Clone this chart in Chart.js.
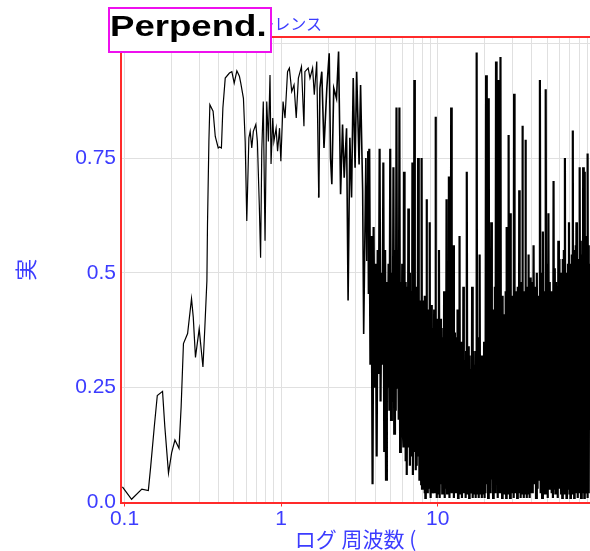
<!DOCTYPE html>
<html lang="ja">
<head>
<meta charset="utf-8">
<title>コヒーレンス</title>
<script src="https://cdn.jsdelivr.net/npm/chart.js@4.4.1/dist/chart.umd.min.js"></script>
<style>
    body { margin: 0; background: #fff; }
    #wrap { position: relative; width: 590px; height: 551px; overflow: hidden; }
    #topTitle {
        position: absolute; right: 268px; top: 14px;
        font: 16px "Noto Sans CJK JP"; line-height: 18px;
        color: #3c3cff; white-space: nowrap;
    }
    #tag {
        position: absolute; left: 108px; top: 7px; width: 164px; height: 46px;
        box-sizing: border-box; border: 2px solid #ee10ee; background: #fff;
    }
    #tag span {
        position: absolute; left: 0; top: 1.5px;
        font: bold 30px "Liberation Sans"; line-height: 30px; color: #000;
        transform: scaleX(1.22); transform-origin: left top; white-space: nowrap;
    }
</style>
</head>
<body>
<div id="wrap">
    <canvas id="chart" width="590" height="551"></canvas>
    <span id="topTitle">コヒーレンス</span>
    <div id="tag"><span>Perpend.</span></div>
</div>
<script>
// 低周波側 (0.1 - 3.6 Hz)
const freqLow = [
    0.097, 0.111, 0.129, 0.142, 0.147, 0.155, 0.162, 0.175, 0.181, 0.191,
    0.200, 0.210, 0.223, 0.230, 0.238, 0.253, 0.268, 0.275, 0.284, 0.300,
    0.317, 0.326, 0.336, 0.339, 0.346, 0.351, 0.368, 0.380, 0.397, 0.405,
    0.416, 0.425, 0.440, 0.468, 0.485, 0.502, 0.522, 0.542, 0.553, 0.575,
    0.590, 0.604, 0.623, 0.635, 0.650, 0.665, 0.690, 0.706, 0.726, 0.740,
    0.753, 0.770, 0.790, 0.810, 0.830, 0.850, 0.863, 0.885, 0.900, 0.930,
    0.950, 0.978, 0.997, 1.03, 1.06, 1.10, 1.13, 1.17, 1.21, 1.25,
    1.29, 1.35, 1.40, 1.42, 1.49, 1.53, 1.59, 1.63, 1.69, 1.74,
    1.77, 1.82, 1.88, 1.96, 2.03, 2.07, 2.11, 2.17, 2.26, 2.33,
    2.40, 2.47, 2.53, 2.62, 2.68, 2.75, 2.82, 2.89, 2.97, 3.04,
    3.15, 3.22, 3.32, 3.37, 3.48, 3.53, 3.60, 3.63
];
const cohLow = [
    0.034, 0.007, 0.029, 0.026, 0.078, 0.165, 0.233, 0.242, 0.165, 0.064,
    0.108, 0.136, 0.118, 0.208, 0.346, 0.368, 0.444, 0.403, 0.316, 0.378,
    0.295, 0.381, 0.483, 0.607, 0.786, 0.866, 0.852, 0.797, 0.772, 0.774,
    0.772, 0.859, 0.924, 0.935, 0.938, 0.913, 0.940, 0.928, 0.913, 0.880,
    0.786, 0.613, 0.794, 0.808, 0.772, 0.808, 0.823, 0.786, 0.649, 0.533,
    0.765, 0.873, 0.570, 0.873, 0.786, 0.931, 0.737, 0.837, 0.786, 0.815,
    0.765, 0.815, 0.743, 0.873, 0.837, 0.938, 0.946, 0.895, 0.909, 0.837,
    0.924, 0.949, 0.819, 0.938, 0.946, 0.924, 0.946, 0.888, 0.960, 0.664,
    0.902, 0.938, 0.772, 0.902, 0.978, 0.750, 0.693, 0.902, 0.880, 0.982,
    0.671, 0.823, 0.707, 0.815, 0.440, 0.794, 0.664, 0.924, 0.729, 0.938,
    0.736, 0.909, 0.678, 0.367, 0.750, 0.526, 0.765, 0.454
];

// 中間 (3.6 - 20 Hz)
const freqMid = [
    3.66, 3.72, 3.78, 3.84, 3.90, 3.96, 4.02, 4.08, 4.14, 4.20,
    4.26, 4.32, 4.38, 4.44, 4.50, 4.56, 4.62, 4.68, 4.74, 4.80,
    4.86, 4.92, 4.98, 5.04, 5.10, 5.16, 5.22, 5.28, 5.34, 5.40,
    5.46, 5.52, 5.58, 5.64, 5.70, 5.76, 5.82, 5.88, 5.94, 6.00,
    6.05, 6.1, 6.15, 6.2, 6.25, 6.3, 6.35, 6.4, 6.45, 6.5,
    6.55, 6.6, 6.65, 6.7, 6.75, 6.8, 6.85, 6.9, 6.95, 7.0,
    7.05, 7.1, 7.15, 7.2, 7.25, 7.3, 7.35, 7.4, 7.45, 7.5,
    7.55, 7.6, 7.65, 7.7, 7.75, 7.8, 7.85, 7.9, 7.95, 8.0,
    8.05, 8.1, 8.15, 8.2, 8.25, 8.3, 8.35, 8.4, 8.45, 8.5,
    8.55, 8.6, 8.65, 8.7, 8.75, 8.8, 8.85, 8.9, 8.95, 9.0,
    9.05, 9.1, 9.15, 9.2, 9.25, 9.3, 9.35, 9.4, 9.45, 9.5,
    9.55, 9.6, 9.65, 9.7, 9.75, 9.8, 9.85, 9.9, 9.95, 10.0,
    10.1, 10.2, 10.3, 10.4, 10.5, 10.6, 10.7, 10.8, 10.9, 11.0,
    11.1, 11.2, 11.3, 11.4, 11.5, 11.6, 11.7, 11.8, 11.9, 12.0,
    12.1, 12.2, 12.3, 12.4, 12.5, 12.6, 12.7, 12.8, 12.9, 13.0,
    13.1, 13.2, 13.3, 13.4, 13.5, 13.6, 13.7, 13.8, 13.9, 14.0,
    14.1, 14.2, 14.3, 14.4, 14.5, 14.6, 14.7, 14.8, 14.9, 15.0,
    15.1, 15.2, 15.3, 15.4, 15.5, 15.6, 15.7, 15.8, 15.9, 16.0,
    16.1, 16.2, 16.3, 16.4, 16.5, 16.6, 16.7, 16.8, 16.9, 17.0,
    17.1, 17.2, 17.3, 17.4, 17.5, 17.6, 17.7, 17.8, 17.9, 18.0,
    18.1, 18.2, 18.3, 18.4, 18.5, 18.6, 18.7, 18.8, 18.9, 19.0,
    19.1, 19.2, 19.3, 19.4, 19.5, 19.6, 19.7, 19.8, 19.9, 20.0
];
const cohMid = [
    0.77, 0.30, 0.58, 0.04, 0.60, 0.25, 0.52, 0.10, 0.55, 0.28,
    0.77, 0.22, 0.50, 0.30, 0.74, 0.11, 0.55, 0.05, 0.48, 0.25,
    0.52, 0.20, 0.77, 0.18, 0.50, 0.22, 0.73, 0.15, 0.55, 0.20,
    0.86, 0.25, 0.50, 0.18, 0.86, 0.11, 0.48, 0.20, 0.52, 0.15,
    0.12, 0.72, 0.15, 0.48, 0.09, 0.47, 0.06, 0.44, 0.14, 0.64,
    0.12, 0.50, 0.08, 0.45, 0.18, 0.46, 0.10, 0.74, 0.06, 0.43,
    0.11, 0.92, 0.12, 0.47, 0.07, 0.46, 0.08, 0.42, 0.13, 0.75,
    0.10, 0.45, 0.05, 0.44, 0.07, 0.41, 0.04, 0.75, 0.03, 0.44,
    0.06, 0.42, 0.05, 0.40, 0.02, 0.45, 0.01, 0.43, 0.04, 0.66,
    0.04, 0.39, 0.02, 0.40, 0.03, 0.42, 0.05, 0.61, 0.05, 0.38,
    0.01, 0.43, 0.02, 0.41, 0.04, 0.38, 0.04, 0.37, 0.02, 0.42,
    0.02, 0.40, 0.03, 0.84, 0.03, 0.36, 0.01, 0.40, 0.02, 0.39,
    0.03, 0.55, 0.01, 0.40, 0.04, 0.38, 0.02, 0.36, 0.05, 0.46,
    0.01, 0.42, 0.03, 0.66, 0.02, 0.34, 0.04, 0.71, 0.01, 0.38,
    0.03, 0.86, 0.02, 0.33, 0.05, 0.56, 0.01, 0.37, 0.03, 0.36,
    0.02, 0.31, 0.04, 0.42, 0.01, 0.35, 0.03, 0.58, 0.02, 0.30,
    0.05, 0.35, 0.01, 0.34, 0.03, 0.47, 0.02, 0.29, 0.04, 0.31,
    0.01, 0.33, 0.03, 0.72, 0.02, 0.30, 0.05, 0.34, 0.01, 0.32,
    0.03, 0.29, 0.02, 0.28, 0.04, 0.47, 0.01, 0.31, 0.03, 0.33,
    0.02, 0.29, 0.05, 0.30, 0.01, 0.33, 0.03, 0.98, 0.02, 0.30,
    0.04, 0.36, 0.01, 0.32, 0.03, 0.54, 0.02, 0.28, 0.05, 0.32,
    0.01, 0.31, 0.03, 0.28, 0.02, 0.30, 0.04, 0.35, 0.01, 0.33
];

// 高周波側 (20 - 93 Hz)
const freqHigh = [
    20.2, 20.4, 20.6, 20.8, 21.0, 21.2, 21.4, 21.6, 21.8, 22.0,
    22.2, 22.4, 22.6, 22.8, 23.0, 23.2, 23.4, 23.6, 23.8, 24.0,
    24.2, 24.4, 24.6, 24.8, 25.0, 25.2, 25.4, 25.6, 25.8, 26.0,
    26.2, 26.4, 26.6, 26.8, 27.0, 27.2, 27.4, 27.6, 27.8, 28.0,
    28.2, 28.4, 28.6, 28.8, 29.0, 29.2, 29.4, 29.6, 29.8, 30.0,
    30.2, 30.4, 30.6, 30.8, 31.0, 31.2, 31.4, 31.6, 31.8, 32.0,
    32.2, 32.4, 32.6, 32.8, 33.0, 33.2, 33.4, 33.6, 33.8, 34.0,
    34.2, 34.4, 34.6, 34.8, 35.0, 35.2, 35.4, 35.6, 35.8, 36.0,
    36.2, 36.4, 36.6, 36.8, 37.0, 37.2, 37.4, 37.6, 37.8, 38.0,
    38.2, 38.4, 38.6, 38.8, 39.0, 39.2, 39.4, 39.6, 39.8, 40.0,
    40.5, 41, 41.5, 42, 42.5, 43, 43.5, 44, 44.5, 45,
    45.5, 46, 46.5, 47, 47.5, 48, 48.5, 49, 49.5, 50,
    50.5, 51, 51.5, 52, 52.5, 53, 53.5, 54, 54.5, 55,
    55.5, 56, 56.5, 57, 57.5, 58, 58.5, 59, 59.5, 60,
    60.5, 61, 61.5, 62, 62.5, 63, 63.5, 64, 64.5, 65,
    65.5, 66, 66.5, 67, 67.5, 68, 68.5, 69, 69.5, 70,
    70.5, 71, 71.5, 72, 72.5, 73, 73.5, 74, 74.5, 75,
    75.5, 76, 76.5, 77, 77.5, 78, 78.5, 79, 79.5, 80,
    80.5, 81, 81.5, 82, 82.5, 83, 83.5, 84, 84.5, 85,
    85.5, 86, 86.5, 87, 87.5, 88, 88.5, 89, 89.5, 90,
    90.5, 91, 91.5, 92, 92.5, 93
];
const cohHigh = [
    0.02, 0.93, 0.04, 0.38, 0.01, 0.88, 0.03, 0.42, 0.02, 0.61,
    0.05, 0.36, 0.01, 0.42, 0.03, 0.47, 0.02, 0.96, 0.04, 0.40,
    0.01, 0.92, 0.03, 0.44, 0.02, 0.97, 0.05, 0.39, 0.01, 0.45,
    0.03, 0.41, 0.02, 0.38, 0.04, 0.46, 0.01, 0.60, 0.03, 0.43,
    0.02, 0.80, 0.05, 0.40, 0.01, 0.63, 0.03, 0.45, 0.02, 0.44,
    0.04, 0.42, 0.01, 0.89, 0.03, 0.46, 0.02, 0.40, 0.05, 0.44,
    0.01, 0.47, 0.03, 0.42, 0.02, 0.68, 0.04, 0.45, 0.01, 0.43,
    0.03, 0.48, 0.02, 0.82, 0.05, 0.44, 0.01, 0.46, 0.03, 0.42,
    0.02, 0.79, 0.04, 0.47, 0.01, 0.41, 0.03, 0.45, 0.02, 0.54,
    0.05, 0.43, 0.01, 0.44, 0.03, 0.49, 0.02, 0.48, 0.04, 0.46,
    0.02, 0.56, 0.04, 0.47, 0.01, 0.50, 0.03, 0.45, 0.05, 0.92,
    0.02, 0.50, 0.01, 0.59, 0.03, 0.46, 0.02, 0.90, 0.04, 0.52,
    0.01, 0.63, 0.03, 0.48, 0.05, 0.46, 0.02, 0.44, 0.01, 0.70,
    0.03, 0.51, 0.02, 0.48, 0.04, 0.47, 0.01, 0.57, 0.03, 0.53,
    0.05, 0.50, 0.02, 0.49, 0.01, 0.53, 0.03, 0.55, 0.02, 0.75,
    0.04, 0.50, 0.01, 0.49, 0.03, 0.52, 0.05, 0.61, 0.02, 0.48,
    0.01, 0.52, 0.03, 0.54, 0.02, 0.81, 0.04, 0.51, 0.01, 0.55,
    0.03, 0.56, 0.05, 0.61, 0.02, 0.50, 0.01, 0.50, 0.03, 0.53,
    0.02, 0.73, 0.04, 0.57, 0.01, 0.54, 0.03, 0.52, 0.05, 0.73,
    0.02, 0.55, 0.01, 0.72, 0.03, 0.58, 0.02, 0.55, 0.04, 0.53,
    0.01, 0.76, 0.03, 0.56, 0.02, 0.52
];

// 目盛り
const xGridValues = [
    0.1, 0.2, 0.3, 0.4, 0.5, 0.6, 0.7, 0.8, 0.9,
    1, 2, 3, 4, 5, 6, 7, 8, 9,
    10, 20, 30, 40, 50, 60, 70, 80, 90
];
const xLabelValues = [0.1, 1, 10];
const xLabelTexts = ["0.1", "1", "10"];
const yTickValues = [0, 0.25, 0.5, 0.75, 1.0];
const yTickTexts = ["0.0", "0.25", "0.5", "0.75", ""];

const blue = "#3c3cff";
const axisRed = "#ff2a2a";
const gridGrey = "#e0e0e0";

document.addEventListener("DOMContentLoaded", () => {
    const freqs = freqLow.concat(freqMid, freqHigh);
    const cohs = cohLow.concat(cohMid, cohHigh);
    const points = freqs.map((f, i) => ({ x: f, y: cohs[i] }));

    // 上側の赤い枠線
    const topBorder = {
        id: "topBorder",
        afterDraw(chart) {
            const { ctx, chartArea } = chart;
            ctx.save();
            ctx.strokeStyle = axisRed;
            ctx.lineWidth = 2;
            ctx.beginPath();
            ctx.moveTo(chartArea.left, chartArea.top);
            ctx.lineTo(chartArea.right, chartArea.top);
            ctx.stroke();
            ctx.restore();
        },
    };

    // 周波数が高いほど点が詰まるので線を太くする
    const segWidth = (c) => {
        const f = c.p0.parsed.x;
        if (f >= 3.6) return 2.2;
        if (f >= 1.7) return 1.6;
        return 1.2;
    };

    const ctx = document.getElementById("chart").getContext("2d");
    new Chart(ctx, {
        type: "line",
        data: {
            datasets: [
                {
                    data: points,
                    borderColor: "#000",
                    borderWidth: 1.2,
                    pointRadius: 0,
                    tension: 0,
                    segment: { borderWidth: segWidth },
                },
            ],
        },
        options: {
            responsive: false,
            animation: false,
            layout: { padding: { top: 37, left: 0, right: 0, bottom: 0 } },
            plugins: {
                legend: { display: false },
                tooltip: { enabled: false },
            },
            scales: {
                x: {
                    type: "logarithmic",
                    min: 0.095,
                    max: 94,
                    afterBuildTicks: (scale) => {
                        scale.ticks = xGridValues.map((v) => ({ value: v }));
                    },
                    afterFit: (scale) => {
                        scale.height = 48.5;
                    },
                    grid: {
                        color: gridGrey,
                        drawTicks: true,
                        tickLength: 4,
                        tickColor: (c) =>
                            c.tick && xLabelValues.includes(c.tick.value) ? axisRed : "rgba(0,0,0,0)",
                    },
                    border: { color: axisRed, width: 2 },
                    ticks: {
                        autoSkip: false,
                        maxRotation: 0,
                        padding: 0,
                        color: blue,
                        font: { family: "Liberation Sans", size: 21 },
                        callback: (value) => {
                            const i = xLabelValues.indexOf(value);
                            return i >= 0 ? xLabelTexts[i] : "";
                        },
                    },
                    title: {
                        display: true,
                        text: "ログ 周波数 (",
                        color: blue,
                        font: { family: "Noto Sans CJK JP", size: 21, lineHeight: 1.0 },
                        padding: { top: 0, bottom: 1 },
                    },
                },
                y: {
                    min: 0,
                    max: 1.0135,
                    afterBuildTicks: (scale) => {
                        scale.ticks = yTickValues.map((v) => ({ value: v }));
                    },
                    afterFit: (scale) => {
                        scale.width = 121;
                    },
                    grid: { color: gridGrey, drawTicks: false },
                    border: { color: axisRed, width: 2 },
                    ticks: {
                        padding: 5,
                        color: blue,
                        font: { family: "Liberation Sans", size: 21 },
                        callback: (value, index) => yTickTexts[index],
                    },
                    title: {
                        display: true,
                        text: "実",
                        color: blue,
                        font: { family: "Noto Sans CJK JP", size: 22 },
                        padding: { top: 12, bottom: 0 },
                    },
                },
            },
        },
        plugins: [topBorder],
    });
});
</script>
</body>
</html>
